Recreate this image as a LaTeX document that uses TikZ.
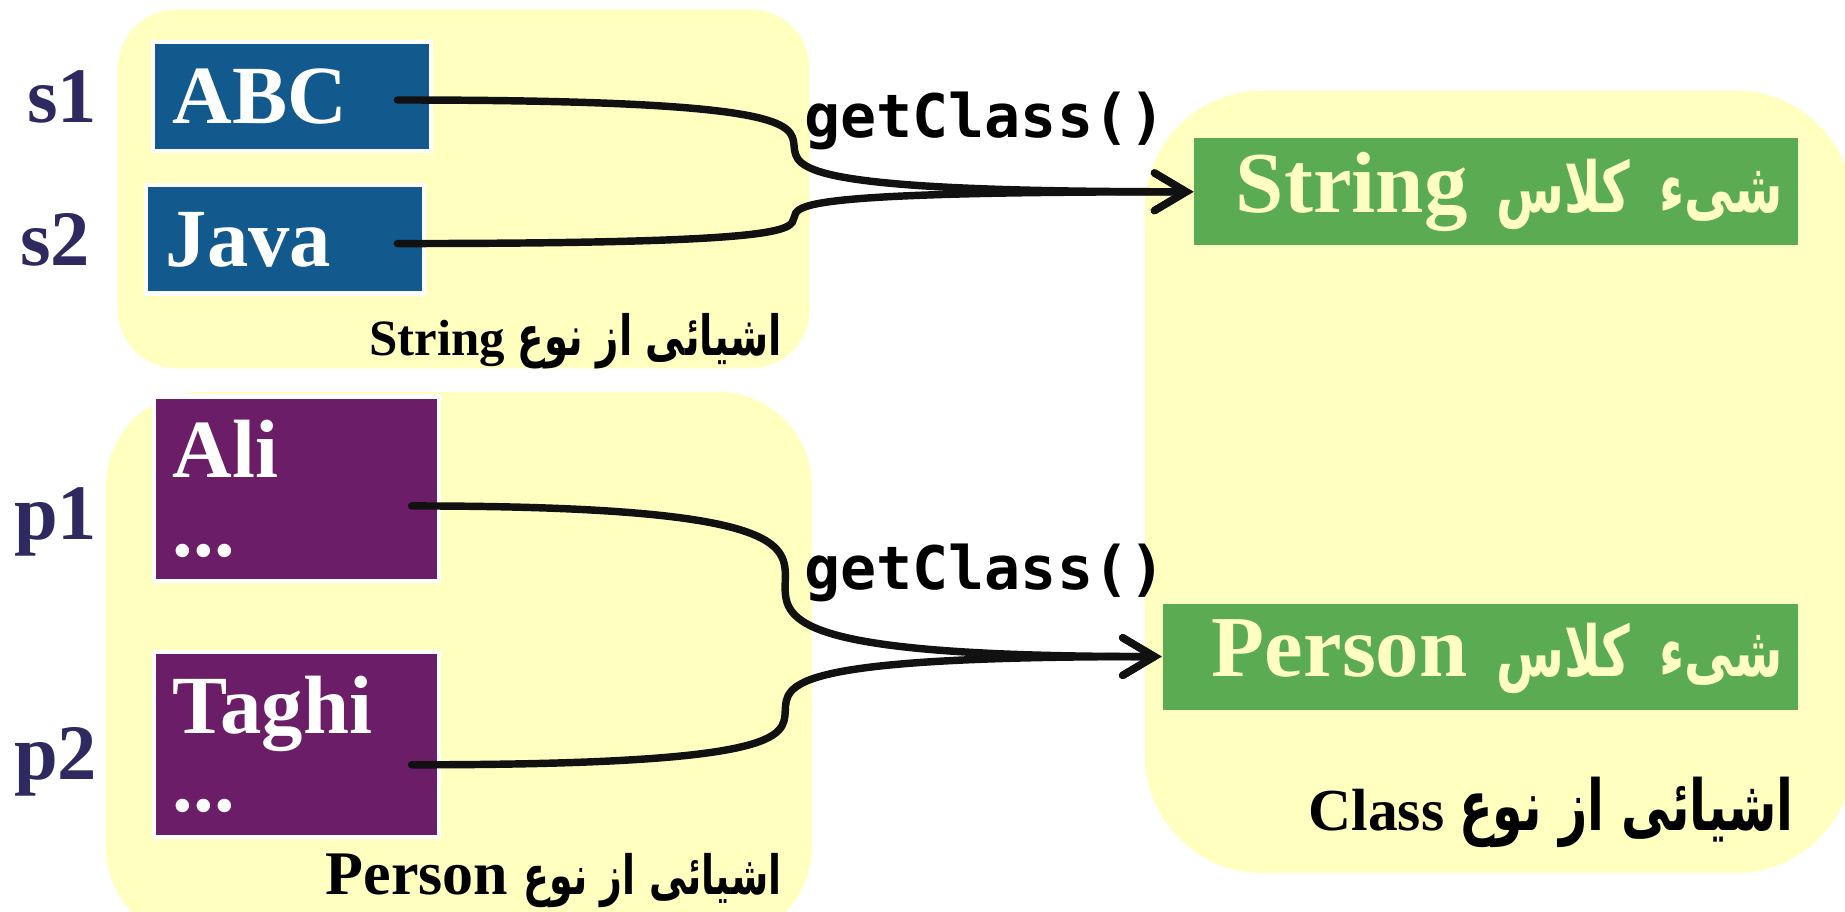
\documentclass[tikz,border=0pt]{standalone}
\usepackage{fontspec}
\setmainfont{Liberation Serif}
\newfontfamily\fafont[Script=Arabic, FakeStretch=0.7]{DejaVu Sans}
\newfontfamily\codefont{DejaVu Sans Mono}
\TeXXeTstate=1
\usetikzlibrary{arrows.meta, positioning}
\definecolor{groupyellow}{HTML}{FFFFC0}
\definecolor{strblue}{HTML}{12598E}
\definecolor{objpurple}{HTML}{6B1E67}
\definecolor{clsgreen}{HTML}{5AAB52}
\definecolor{refnavy}{HTML}{2E2A60}
\definecolor{arrowblack}{HTML}{111111}
\tikzstyle{group} = [rectangle, fill=groupyellow, inner sep=0pt]
\tikzstyle{strobj} = [rectangle, minimum height=0.92cm, text width=2.02cm, inner xsep=0.17cm, align=left, draw=white, line width=1pt, fill=strblue, text=white, font=\fontsize{20}{19}\selectfont\bfseries]
\tikzstyle{perobj} = [rectangle, minimum height=1.57cm, text width=2.10cm, inner xsep=0.16cm, align=left, draw=white, line width=1pt, fill=objpurple, text=white, font=\fontsize{20}{19}\selectfont\bfseries]
\tikzstyle{clsobj} = [rectangle, minimum height=0.9cm, inner xsep=0.13cm, align=right, fill=clsgreen, text=groupyellow, font=\fontsize{21}{24}\selectfont\bfseries]
\tikzstyle{refname} = [inner sep=0pt, text=refnavy, font=\fontsize{19}{22}\selectfont\bfseries]
\tikzstyle{method} = [inner sep=0pt, font=\codefont\bfseries\fontsize{14.5}{17}\selectfont]
\tikzstyle{grouplabel} = [anchor=east, inner sep=0pt]
\tikzstyle{arrow} = [line width=1.8pt, arrowblack, line cap=round, -{Straight Barb[length=2.7mm, width=3.2mm, line cap=round]}]
% persian font at its own size
\newcommand{\fasize}[1]{\fafont\bfseries\fontsize{#1}{#1}\selectfont}

\begin{document}
\begin{tikzpicture}[node distance=0.45cm]
    \useasboundingbox (0,0) rectangle (15.68,-7.75);
    \clip (0,0) rectangle (15.68,-7.75);

    % yellow groups
    \node (strgroup) [group, rounded corners=0.5cm, minimum width=5.88cm, minimum height=3.05cm] at (3.94,-1.605) {};
    \node (pergroup) [group, rounded corners=0.8cm, minimum width=6.00cm, minimum height=4.67cm] at (3.90,-5.665) {};
    \node (clsgroup) [group, rounded corners=1cm, minimum width=6.02cm, minimum height=6.65cm] at (12.74,-4.095) {};

    % objects
    \node (abc) [strobj] at (2.48,-0.82) {ABC};
    \node (java) [strobj] at (2.42,-2.035) {Java};
    \node (ali) [perobj] at (2.52,-4.155) {Ali\\...};
    \node (taghi) [perobj] at (2.52,-6.325) {Taghi\\...};

    \node (strcls) [clsobj, text width=4.87cm] at (12.715,-1.63) {String {\fasize{17}\beginR شیء کلاس\endR}};
    \node (percls) [clsobj, text width=5.14cm] at (12.58,-5.58) {Person {\fasize{17}\beginR شیء کلاس\endR}};

    % references
    \node (s1) [refname, left=of abc] {s1};
    \node (s2) [refname, left=of java] {s2};
    \node (p1) [refname, left=0.46cm of ali, yshift=-0.28cm] {p1};
    \node (p2) [refname, left=0.46cm of taghi, yshift=-0.15cm] {p2};

    % group captions
    \node (strlabel) [grouplabel, font=\bfseries\fontsize{12.3}{14}\selectfont] at (6.65,-2.90) {String {\fasize{13.4}\beginR اشیائی از نوع\endR}};
    \node (perlabel) [grouplabel, font=\bfseries\fontsize{15}{17}\selectfont] at (6.65,-7.48) {Person {\fasize{13.1}\beginR اشیائی از نوع\endR}};
    \node (clslabel) [grouplabel, font=\bfseries\fontsize{14.4}{16}\selectfont] at (15.25,-6.90) {Class {\fasize{17}\beginR اشیائی از نوع\endR}};

    \node (get1) [method] at (8.37,-1.03) {getClass()};
    \node (get2) [method] at (8.37,-4.87) {getClass()};

    \draw [arrow] ([xshift=-0.3cm, yshift=-0.03cm]abc.east) to[out=0, in=180, looseness=2.5] (strcls.west);
    \draw [arrow] ([xshift=-0.24cm, yshift=-0.035cm]java.east) to[out=0, in=180, looseness=2.5] (strcls.west);
    \draw [arrow] ([xshift=-0.25cm, yshift=-0.145cm]ali.east) to[out=0, in=180, looseness=2.5] (percls.west);
    \draw [arrow] ([xshift=-0.25cm, yshift=-0.175cm]taghi.east) to[out=0, in=180, looseness=2.5] (percls.west);
\end{tikzpicture}
\end{document}
